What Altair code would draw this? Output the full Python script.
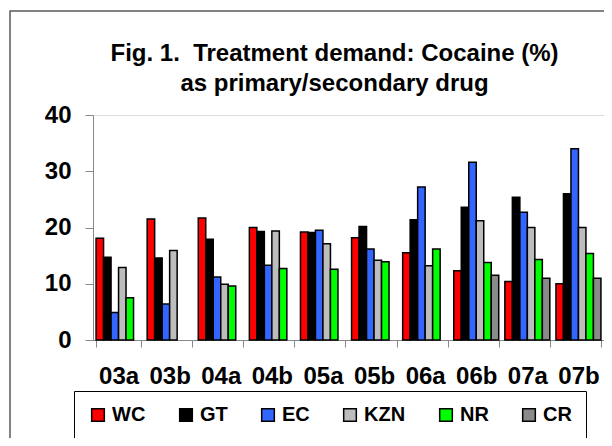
import altair as alt
import pandas as pd

periods = ["03a", "03b", "04a", "04b", "05a", "05b", "06a", "06b", "07a", "07b"]
series = ["WC", "GT", "EC", "KZN", "NR", "CR"]
wc = [18.1, 21.5, 21.7, 20.0, 19.2, 18.2, 15.5, 12.3, 10.4, 10.0]
gt = [14.7, 14.6, 17.9, 19.3, 19.1, 20.2, 21.4, 23.6, 25.4, 26.0]
ec = [4.9, 6.4, 11.2, 13.3, 19.5, 16.2, 27.2, 31.6, 22.7, 34.0]
kzn = [12.9, 15.9, 9.9, 19.4, 17.1, 14.2, 13.2, 21.2, 20.0, 20.0]
nr = [7.5, None, 9.6, 12.7, 12.6, 13.9, 16.2, 13.8, 14.3, 15.4]
cr = [None, None, None, None, None, None, None, 11.5, 11.0, 11.0]
colors = ["#ff0000", "#000000", "#3366ff", "#bdbdbd", "#00ff00", "#8a8a8a"]

rows = []
for i, p in enumerate(periods):
    for s, vals in zip(series, [wc, gt, ec, kzn, nr, cr]):
        if vals[i] is not None:
            rows.append({"period": p, "region": s, "value": vals[i]})
df = pd.DataFrame(rows)

FONT = "Liberation Sans"

frame = alt.Chart(alt.Data(values=[{}])).mark_rect(
    fillOpacity=0, stroke="#5a5a5a", strokeWidth=1.5
).encode(
    x=alt.value(-83), x2=alt.value(700), y=alt.value(-104), y2=alt.value(600)
)

bars = alt.Chart(df).mark_bar(stroke="black", strokeWidth=1.5).encode(
    x=alt.X(
        "period:N", sort=periods,
        scale=alt.Scale(paddingInner=0.12, paddingOuter=0.06),
        axis=alt.Axis(
            title=None, labelAngle=0, tickBand="extent", tickSize=7,
            labelPadding=17, labelFontSize=24, labelFont=FONT,
            labelFontWeight="bold", labelColor="black",
        ),
    ),
    xOffset=alt.XOffset(
        "region:N", sort=series,
        scale=alt.Scale(domain=series, paddingInner=0, paddingOuter=0),
    ),
    y=alt.Y(
        "value:Q",
        scale=alt.Scale(domain=[0, 40], nice=False),
        axis=alt.Axis(
            title=None, values=[0, 10, 20, 30, 40], grid=False, tickSize=8,
            labelPadding=14, labelFontSize=24, labelFont=FONT,
            labelFontWeight="bold", labelColor="black",
        ),
    ),
    color=alt.Color(
        "region:N", sort=series,
        scale=alt.Scale(domain=series, range=colors),
        legend=alt.Legend(
            title=None, orient="none", legendX=-19, legendY=276,
            direction="horizontal", columns=6, columnPadding=30,
            symbolType="square", symbolSize=160, symbolStrokeColor="black",
            symbolStrokeWidth=1.5, symbolOpacity=1,
            labelFont=FONT, labelFontSize=20, labelFontWeight="bold",
            labelColor="black", labelOffset=4, padding=14,
            strokeColor="black", fillColor="white",
        ),
    ),
)

chart = alt.layer(frame, bars).properties(
    width=511, height=225,
    autosize=alt.AutoSizeParams(type="none"),
    padding={"left": 85, "top": 107, "right": 0, "bottom": 98},
    title=alt.Title(
        ["Fig. 1.\u00a0 Treatment demand: Cocaine (%)", "as primary/secondary drug"],
        font=FONT, fontSize=24, fontWeight="bold", color="black",
        anchor="middle", frame="group", dx=-14, offset=-86, lineHeight=30,
    ),
).configure_view(stroke=None).configure_axis(
    domainColor="black", domainWidth=2, tickColor="black", tickWidth=1.5,
).configure_legend(strokeWidth=2).configure(background="white")

chart.save("out.html", embed_options={"renderer": "svg", "actions": False})
